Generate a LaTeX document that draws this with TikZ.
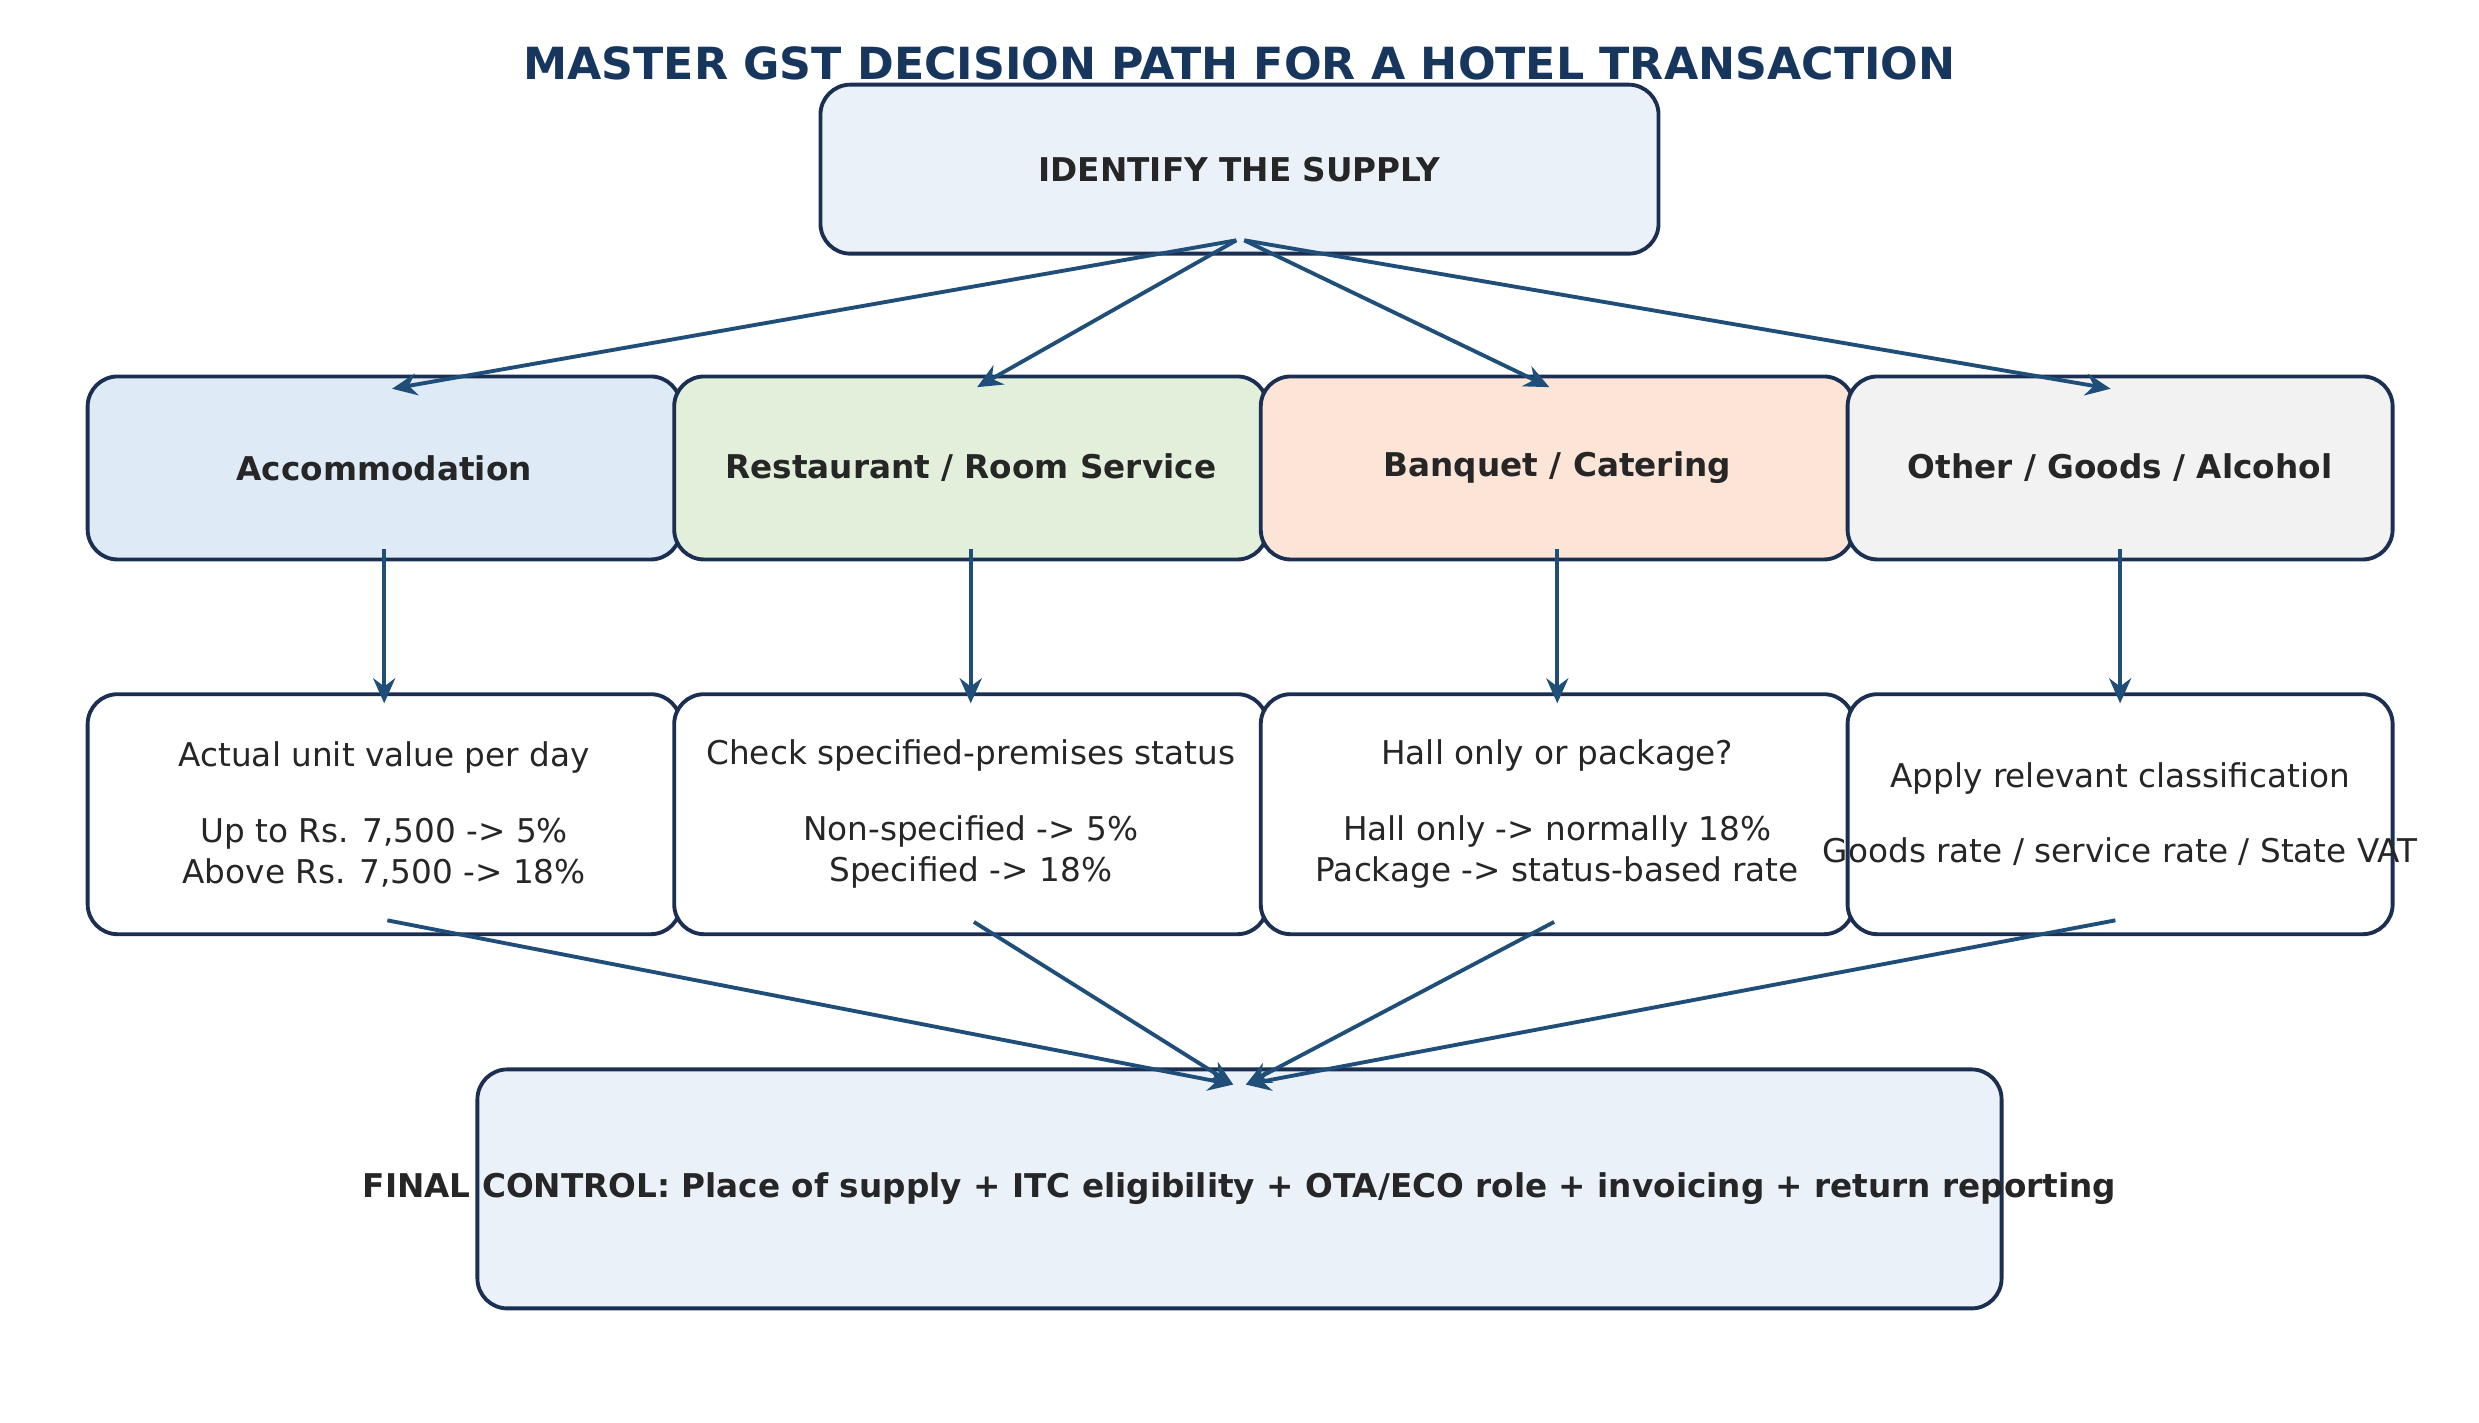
\documentclass[tikz,border=0pt]{standalone}
\usepackage{fontspec}
\setmainfont{DejaVu Sans}
\usepackage{xcolor}
\usetikzlibrary{shapes,arrows.meta,positioning,calc}
\definecolor{navy}{HTML}{17365D}
\definecolor{edge}{HTML}{1B2F52}
\definecolor{arr}{HTML}{1F4E79}
\definecolor{startfill}{HTML}{EAF1F8}
\definecolor{accfill}{HTML}{DEEAF6}
\definecolor{resfill}{HTML}{E2EFDA}
\definecolor{banfill}{HTML}{FCE4D6}
\definecolor{othfill}{HTML}{F2F2F2}
\begin{document}
\begin{tikzpicture}[x=0.01581cm, y=-0.01581cm,
    box/.style={rectangle, rounded corners=0.3cm, draw=edge, line width=1.1pt, text centered, inner sep=0pt, font=\fontsize{9.3}{11.6}\selectfont, text=black!85},
    cat/.style={box, minimum width=5.93cm, minimum height=1.83cm, font=\fontsize{9.3}{11.6}\selectfont\bfseries},
    rule/.style={box, fill=white, minimum width=5.93cm, minimum height=2.40cm, align=center},
    arrow/.style={-{Stealth[length=0.25cm, width=0.22cm]}, line width=1.1pt, draw=arr}
]
    \useasboundingbox (0,0) rectangle (1568,900);
    % Titel
    \node[font=\fontsize{12.6}{15}\selectfont\bfseries, text=navy] (title) at (784,40) {MASTER GST DECISION PATH FOR A HOTEL TRANSACTION};

    % Start
    \node[box, fill=startfill, minimum width=8.38cm, minimum height=1.69cm, font=\fontsize{9.3}{11.6}\selectfont\bfseries] (supply) at (784,107) {IDENTIFY THE SUPPLY};

    % Kategorien
    \node[cat, fill=accfill] (accom) at (243,296) {Accommodation};
    \node[cat, fill=resfill] (resto) at (614,296) {Restaurant / Room Service};
    \node[cat, fill=banfill] (banquet) at (985,296) {Banquet / Catering};
    \node[cat, fill=othfill, minimum width=5.45cm] (other) at (1341,296) {Other / Goods / Alcohol};

    % Regeln
    \node[rule] (accrule) at (243,515) {Actual unit value per day\\[0.35cm]Up to Rs. 7,500 -> 5\%\\Above Rs. 7,500 -> 18\%};
    \node[rule] (resrule) at (614,515) {Check specified-premises status\\[0.35cm]Non-specified -> 5\%\\Specified -> 18\%};
    \node[rule] (banrule) at (985,515) {Hall only or package?\\[0.35cm]Hall only -> normally 18\%\\Package -> status-based rate};
    \node[rule, minimum width=5.45cm] (othrule) at (1341,515) {Apply relevant classification\\[0.35cm]\makebox[0pt]{Goods rate / service rate / State VAT}};

    % Abschluss
    \node[box, fill=startfill, minimum width=15.24cm, minimum height=2.39cm, font=\fontsize{9.3}{11.6}\selectfont\bfseries] (final) at (784,752) {\makebox[0pt]{FINAL CONTROL: Place of supply + ITC eligibility + OTA/ECO role + invoicing + return reporting}};

    % Pfeile
    \coordinate (splitL) at (782,152);
    \coordinate (splitR) at (787,152);
    \coordinate (joinL) at (780,686);
    \coordinate (joinR) at (788,686);
    \draw[arrow] (splitL) -- ($(accom.north)+(5,9)$);
    \draw[arrow] (splitL) -- ($(resto.north)+(4,8)$);
    \draw[arrow] (splitR) -- ($(banquet.north)+(-5,8)$);
    \draw[arrow] (splitR) -- ($(other.north)+(-6,9)$);
    \foreach \a/\b in {accom/accrule, resto/resrule, banquet/banrule, other/othrule}
        \draw[arrow] ($(\a.south)+(0,-8)$) -- ($(\b.north)+(0,7)$);
    \draw[arrow] ($(accrule.south)+(2,-10)$) -- (joinL);
    \draw[arrow] ($(resrule.south)+(2,-9)$) -- (joinL);
    \draw[arrow] ($(banrule.south)+(-2,-9)$) -- (joinR);
    \draw[arrow] ($(othrule.south)+(-3,-10)$) -- (joinR);
\end{tikzpicture}
\end{document}
